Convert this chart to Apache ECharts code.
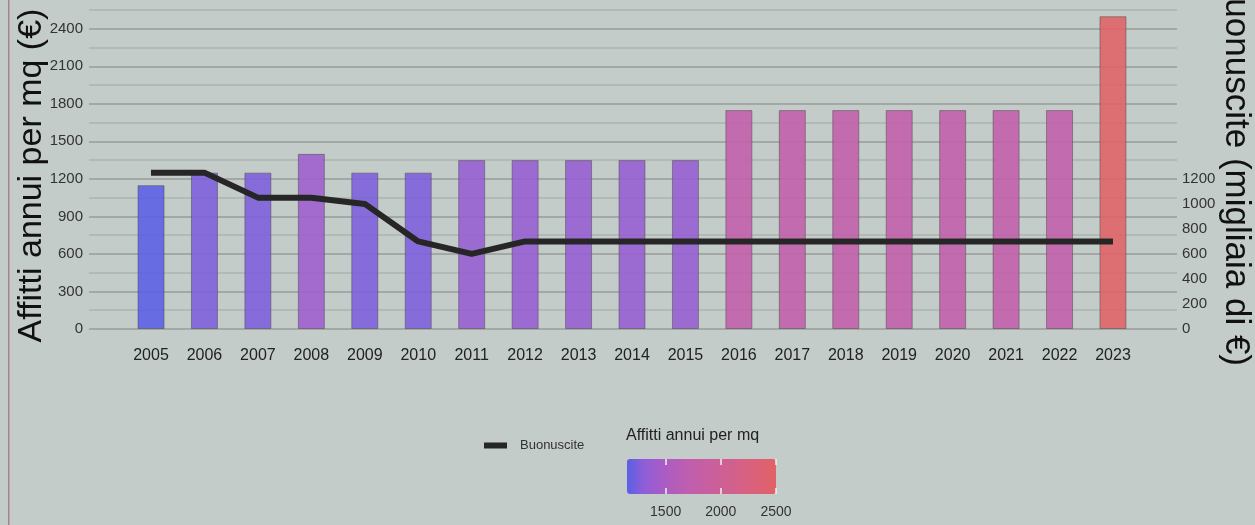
<!DOCTYPE html>
<html>
<head>
<meta charset="utf-8">
<script src="https://cdn.jsdelivr.net/npm/echarts@6/dist/echarts.min.js"></script>
<style>
  html, body { margin: 0; padding: 0; background: #c3ccc8; }
  #box { width: 1255px; height: 525px; }
</style>
</head>
<body>
<div id="box"></div>
<script>
// dati
const years = ['2005', '2006', '2007', '2008', '2009', '2010', '2011', '2012', '2013', '2014',
  '2015', '2016', '2017', '2018', '2019', '2020', '2021', '2022', '2023'];
const affitti = [1150, 1250, 1250, 1400, 1250, 1250, 1350, 1350, 1350, 1350,
  1350, 1750, 1750, 1750, 1750, 1750, 1750, 1750, 2500];
const buonuscite = [1250, 1250, 1050, 1050, 1000, 700, 600, 700, 700, 700,
  700, 700, 700, 700, 700, 700, 700, 700, 700];
const colorbarTicks = [1500, 2000, 2500];

const font = 'Liberation Sans, Arial, sans-serif';
const yMax = 2550;

const myChart = echarts.init(document.getElementById('box'));

const option = {
  backgroundColor: '#c3ccc8',
  animation: false,
  textStyle: { fontFamily: font },
  title: {
    text: 'Affitti annui per mq',
    left: 626, top: 428, padding: 0,
    textStyle: { fontSize: 16, fontWeight: 'normal', color: '#222', fontFamily: font }
  },
  legend: {
    data: ['Buonuscite'],
    left: 484, top: 439, padding: 0,
    icon: 'rect', itemWidth: 23, itemHeight: 6,
    textStyle: { fontSize: 13, color: '#333', padding: [0, 0, 0, 8] }
  },
  visualMap: {
    type: 'continuous',
    seriesIndex: 0,
    min: 1150, max: 2500,
    orient: 'horizontal',
    left: 627, top: 459, padding: 0,
    itemWidth: 35, itemHeight: 149,
    calculable: false, hoverLink: false,
    inRange: {
      color: ['#5b5fe6', '#8e5ed8', '#a55cc8', '#b65db8', '#c15fab',
        '#c95f9f', '#d06092', '#d66185', '#dc6175', '#e06266']
    }
  },
  graphic: [
    { type: 'rect', shape: { x: 8, y: 0, width: 1.5, height: 525 }, style: { fill: '#a5848f' }, silent: true }
  ],
  grid: [
    // griglia di sfondo + assi con etichette
    { left: 89, right: 78, top: 10, bottom: 196, outerBoundsMode: 'none' },
    // barre e linea
    { left: 124.3, right: 115.3, top: 10, bottom: 196, outerBoundsMode: 'none' },
    // barra colori della legenda
    { left: 627, width: 149, top: 459, height: 35, outerBoundsMode: 'none' }
  ],
  xAxis: [
    { gridIndex: 0, type: 'value', min: 0, max: 1, show: false },
    {
      gridIndex: 1, type: 'category', data: years,
      axisLine: { show: false }, axisTick: { show: false },
      axisLabel: { fontSize: 16, color: '#222', margin: 19 }
    },
    {
      gridIndex: 2, type: 'value', min: 1150, max: 2500, z: 10,
      axisLine: { show: false }, splitLine: { show: false },
      axisTick: { customValues: colorbarTicks, inside: true, length: 6, lineStyle: { color: '#f0f0f0', width: 1.5 } },
      axisLabel: { customValues: colorbarTicks, fontSize: 14, color: '#333', margin: 11, formatter: v => String(v) }
    },
    {
      gridIndex: 2, type: 'value', min: 1150, max: 2500, position: 'top', z: 10,
      axisLine: { show: false }, splitLine: { show: false },
      axisTick: { customValues: colorbarTicks, inside: true, length: 6, lineStyle: { color: '#f0f0f0', width: 1.5 } },
      axisLabel: { show: false }
    }
  ],
  yAxis: [
    {
      gridIndex: 0, type: 'value', min: 0, max: yMax, interval: 150,
      name: 'Affitti annui per mq (€)', nameLocation: 'middle', nameGap: 40, nameMoveOverlap: false,
      nameTextStyle: { fontSize: 34, color: '#111', padding: [0, 12, 0, 0] },
      axisLine: { show: false }, axisTick: { show: false },
      axisLabel: {
        fontSize: 15, color: '#333', margin: 6,
        formatter: v => (v % 300 === 0 ? v : '')
      },
      splitLine: { lineStyle: { color: ['#989d9b', '#adb4b1'], width: 1.5 } }
    },
    {
      gridIndex: 0, type: 'value', min: 0, max: yMax, interval: 200, position: 'right',
      name: 'Buonuscite (migliaia di €)', nameLocation: 'middle', nameGap: 41, nameRotate: -90, nameMoveOverlap: false,
      nameTextStyle: { fontSize: 35, color: '#111', padding: [0, 0, 0, 2] },
      axisLine: { show: false }, axisTick: { show: false }, splitLine: { show: false },
      axisLabel: {
        fontSize: 15, color: '#333', margin: 5,
        formatter: v => (v <= 1200 ? v : '')
      }
    },
    { gridIndex: 1, type: 'value', min: 0, max: yMax, show: false },
    { gridIndex: 2, type: 'value', min: 0, max: 1, show: false }
  ],
  series: [
    {
      name: 'Affitti annui per mq',
      type: 'bar',
      xAxisIndex: 1, yAxisIndex: 2,
      data: affitti,
      barWidth: 27,
      itemStyle: { opacity: 0.88, borderColor: 'rgba(70,70,70,0.55)', borderWidth: 1 }
    },
    {
      name: 'Buonuscite',
      type: 'line',
      xAxisIndex: 1, yAxisIndex: 2,
      data: buonuscite,
      symbol: 'none',
      color: '#262626',
      lineStyle: { color: '#262626', width: 6 },
      z: 5
    }
  ]
};

myChart.setOption(option);
</script>
</body>
</html>
